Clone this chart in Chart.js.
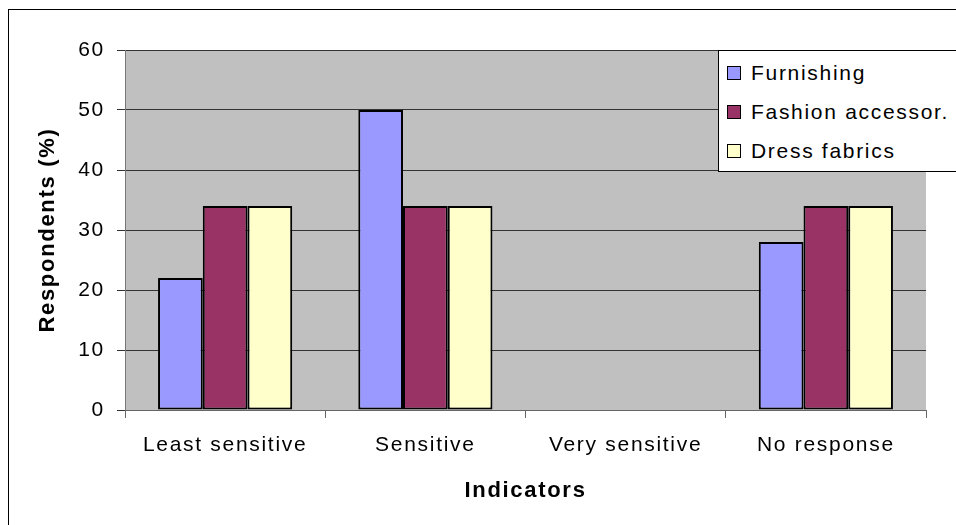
<!DOCTYPE html>
<html>
<head>
<meta charset="utf-8">
<script src="https://cdn.jsdelivr.net/npm/chart.js@4/dist/chart.umd.min.js"></script>
<style>
  html, body { margin: 0; padding: 0; background: #fff; }
  #wrap { position: relative; width: 956px; height: 525px; overflow: hidden; background: #fff; }
  #frame { position: absolute; left: 8px; top: 9px; width: 1000px; height: 600px;
           border-left: 1px solid #000; border-top: 1px solid #000; pointer-events: none; }
  #chart { position: absolute; left: 0; top: 0; }
  #legend { position: absolute; left: 718px; top: 50px; width: 260px; height: 120px;
            background: #fff; border: 1px solid #000; font-family: "Liberation Sans", Arial, sans-serif;
            font-size: 21px; letter-spacing: 1.7px; color: #000; }
  .item { position: absolute; left: 8px; height: 26px; display: flex; align-items: center; white-space: nowrap; }
  .swatch { width: 12px; height: 12px; border: 1px solid #000; margin-right: 10px; }
</style>
</head>
<body>
<div id="wrap">
  <canvas id="chart" width="956" height="525"></canvas>
  <div id="frame"></div>
  <div id="legend"></div>
</div>
<script>
// Categories and survey results (% of respondents)
const categories = ['Least sensitive', 'Sensitive', 'Very sensitive', 'No response'];
const seriesNames = ['Furnishing', 'Fashion accessor.', 'Dress fabrics'];
const furnishing = [22, 50, 0, 28];
const fashionAccessories = [34, 34, 0, 34];
const dressFabrics = [34, 34, 0, 34];
const yTicks = [0, 10, 20, 30, 40, 50, 60];

const colors = ['#9999FF', '#993366', '#FFFFCC'];
const values = [furnishing, fashionAccessories, dressFabrics];

const FONT = '"Liberation Sans", Arial, sans-serif';

// Grey plot background and spaced lettering for canvas text
const plotBackground = {
  id: 'plotBackground',
  beforeLayout(chart) { chart.ctx.letterSpacing = '1.7px'; },
  beforeDraw(chart) {
    const { ctx, chartArea: a } = chart;
    ctx.save();
    ctx.fillStyle = '#C0C0C0';
    ctx.fillRect(a.left, a.top, a.right - a.left, a.bottom - a.top);
    ctx.restore();
    ctx.letterSpacing = '1.7px';
  }
};

const chart = new Chart(document.getElementById('chart'), {
  type: 'bar',
  data: {
    labels: categories,
    datasets: seriesNames.map((name, i) => ({
      label: name,
      data: values[i],
      backgroundColor: colors[i],
      borderColor: '#000',
      borderWidth: 2,
      borderSkipped: false,
      barPercentage: 1,
      categoryPercentage: 0.67
    }))
  },
  options: {
    responsive: false,
    animation: false,
    devicePixelRatio: 1,
    layout: { padding: { top: 50, right: 30, left: 0, bottom: 0 } },
    plugins: { legend: { display: false }, tooltip: { enabled: false } },
    scales: {
      x: {
        afterFit: s => { s.height = 115; },
        grid: { drawOnChartArea: false, drawTicks: true, tickLength: 8, color: '#666', offset: true },
        border: { color: '#666', width: 1 },
        ticks: { color: '#000', padding: 15, font: { family: FONT, size: 21 }, maxRotation: 0, autoSkip: false },
        title: { display: true, text: 'Indicators', color: '#000',
                 font: { family: FONT, size: 22, weight: 'bold' }, padding: { top: 0, bottom: 21 } }
      },
      y: {
        min: 0, max: 60,
        afterFit: s => { s.width = 125; },
        afterBuildTicks: s => { s.ticks = yTicks.map(v => ({ value: v })); },
        grid: { color: '#333', tickLength: 8, lineWidth: 1 },
        border: { color: '#777', width: 1 },
        ticks: { color: '#000', padding: 12, font: { family: FONT, size: 21 } },
        title: { display: true, text: 'Respondents (%)', color: '#000',
                 font: { family: FONT, size: 22, weight: 'bold' }, padding: { top: 35, bottom: 0 } }
      }
    }
  },
  plugins: [plotBackground]
});

// Legend box built from the datasets
const legend = document.getElementById('legend');
chart.data.datasets.forEach((ds, i) => {
  const row = document.createElement('div');
  row.className = 'item';
  row.style.top = (9 + i * 39) + 'px';
  const sw = document.createElement('span');
  sw.className = 'swatch';
  sw.style.background = ds.backgroundColor;
  const txt = document.createElement('span');
  txt.textContent = ds.label;
  row.appendChild(sw);
  row.appendChild(txt);
  legend.appendChild(row);
});
</script>
</body>
</html>
